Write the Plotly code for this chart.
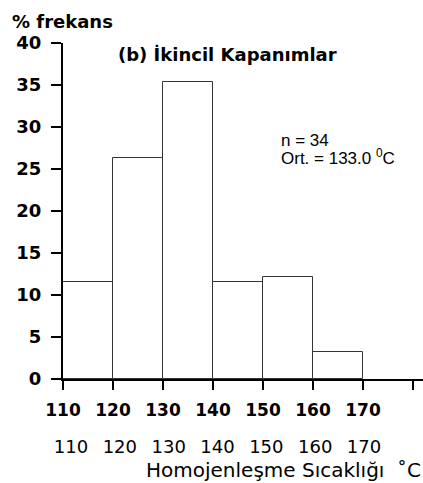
import plotly.graph_objects as go

# Data
bin_starts = [110, 120, 130, 140, 150, 160]
percent = [11.6, 26.3, 35.3, 11.6, 12.2, 3.2]
bin_width = 10

x_tickvals = [110, 120, 130, 140, 150, 160, 170]
x_ticktext = ["110", "120", "130", "140", "150", "160", "170"]
x_extra_tick = [180]
x2_tickvals = [110, 120, 130, 140, 150, 160, 170]
x2_ticktext = ["110", "120", "130", "140", "150", "160", "170"]
y_tickvals = [0, 5, 10, 15, 20, 25, 30, 35, 40]

title_text = "(b) İkincil Kapanımlar"
y_title = "% frekans"
x_title = "Homojenleşme Sıcaklığı  ˚C"
n_text = "n = 34"
mean_text = "Ort. = 133.0 <sup>0</sup>C"

BOLD = "DejaVu Sans"

fig = go.Figure()
fig.add_trace(go.Bar(
    x=bin_starts, y=percent, width=bin_width, offset=0,
    marker=dict(color="white", line=dict(color="#333333", width=1)),
    showlegend=False, hoverinfo="skip",
))
# invisible trace to carry the second (plain) tick-label axis
fig.add_trace(go.Scatter(
    x=x2_tickvals, y=[0] * len(x2_tickvals), xaxis="x2", yaxis="y",
    mode="markers", marker=dict(opacity=0), showlegend=False, hoverinfo="skip",
))

fig.update_layout(
    width=423, height=483,
    margin=dict(l=63, r=0, t=43, b=20),
    paper_bgcolor="white", plot_bgcolor="rgba(0,0,0,0)",
    bargap=0,
    xaxis=dict(
        range=[110, 182], domain=[0, 1],
        tickvals=x_tickvals, ticktext=x_ticktext,
        ticks="outside", ticklen=9, tickwidth=2, tickcolor="black",
        minor=dict(tickvals=x_extra_tick, ticks="outside", ticklen=9,
                   tickwidth=2, tickcolor="black", showgrid=False),
        showline=True, linecolor="black", linewidth=2,
        showgrid=False, zeroline=False, automargin=False,
        tickfont=dict(family=BOLD, size=17, color="black", weight="bold"),
        ticklabelstandoff=6,
        anchor="y",
    ),
    xaxis2=dict(
        range=[110, 182], domain=[0.0222, 0.9989],
        anchor="free", position=0.068,
        tickvals=x2_tickvals, ticktext=x2_ticktext,
        ticks="", showline=False, showgrid=False, zeroline=False,
        automargin=False,
        tickfont=dict(family="DejaVu Sans", size=18, color="black"),
    ),
    yaxis=dict(
        range=[0, 40], domain=[0.2, 1],
        tickvals=y_tickvals,
        ticks="outside", ticklen=10, tickwidth=2, tickcolor="black",
        showline=True, linecolor="black", linewidth=2,
        showgrid=False, zeroline=False, automargin=False,
        tickfont=dict(family=BOLD, size=18, color="black", weight="bold"),
        ticklabelstandoff=6,
    ),
    annotations=[
        dict(text=y_title, xref="paper", yref="paper", x=-0.1472, y=1.05,
             xanchor="left", yanchor="middle", showarrow=False,
             font=dict(family=BOLD, size=18, color="black", weight="bold")),
        dict(text=title_text, xref="paper", yref="paper", x=0.1472, y=0.9738,
             xanchor="left", yanchor="middle", showarrow=False,
             font=dict(family=BOLD, size=18, color="black", weight="bold")),
        dict(text=n_text, xref="paper", yref="paper", x=0.6, y=0.769,
             xanchor="left", yanchor="middle", showarrow=False,
             font=dict(family="Liberation Sans", size=17, color="black")),
        dict(text=mean_text, xref="paper", yref="paper", x=0.6, y=0.7286,
             xanchor="left", yanchor="middle", showarrow=False,
             font=dict(family="Liberation Sans", size=17, color="black")),
        dict(text=x_title, xref="paper", yref="paper", x=1.0, y=-0.0167,
             xanchor="right", yanchor="middle", showarrow=False,
             font=dict(family="DejaVu Sans", size=20, color="black")),
    ],
)

fig.write_html(
    "out.html",
    config={"displayModeBar": False},
    post_script="document.body.style.margin='0';document.body.style.overflow='hidden';",
)
